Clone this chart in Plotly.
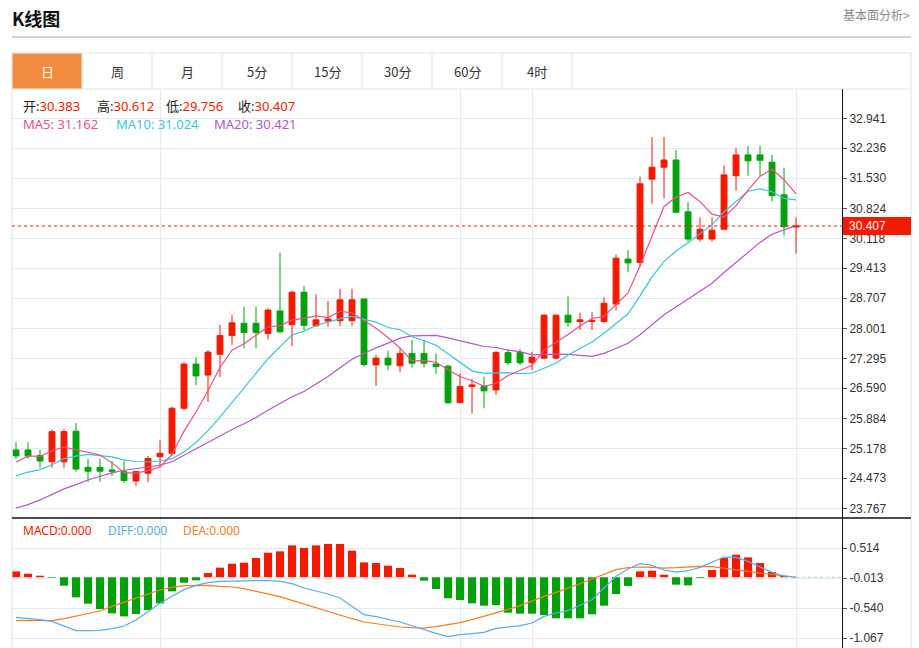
import plotly.graph_objects as go

# ---------------- data ----------------
idx = list(range(66))
opens = [25.14, 25.14, 25.01, 24.86, 24.86, 25.58, 24.73, 24.73, 24.67, 24.63,
         24.41, 24.59, 24.98, 25.06, 26.12, 27.16, 26.90, 27.39, 27.83, 28.12,
         28.12, 27.88, 28.41, 28.09, 28.85, 28.06, 28.17, 28.18, 28.18, 28.69,
         27.14, 27.30, 27.12, 27.41, 27.41, 27.16, 27.11, 26.25, 26.63, 26.64,
         26.55, 27.43, 27.43, 27.19, 27.30, 27.30, 28.31, 28.16, 28.16, 28.16,
         28.57, 29.63, 29.55, 31.51, 31.79, 31.96, 30.74, 30.10, 30.10, 30.33,
         31.59, 32.08, 32.08, 31.91, 31.14, 30.383]
highs = [25.32, 25.32, 25.14, 25.62, 25.63, 25.77, 24.93, 24.93, 24.88, 24.88,
         24.63, 25.00, 25.37, 26.16, 27.20, 27.32, 27.49, 28.08, 28.31, 28.51,
         28.51, 28.47, 29.78, 28.88, 29.00, 28.80, 28.64, 28.93, 28.93, 28.71,
         27.37, 27.47, 27.55, 27.73, 27.72, 27.41, 27.14, 26.94, 26.81, 26.86,
         27.47, 27.51, 27.51, 27.45, 28.33, 28.33, 28.75, 28.37, 28.38, 28.73,
         29.73, 29.84, 31.57, 32.50, 32.50, 32.20, 30.97, 30.61, 30.61, 31.83,
         32.24, 32.29, 32.29, 32.08, 31.77, 30.612]
lows = [24.93, 24.93, 24.72, 24.72, 24.72, 24.63, 24.39, 24.39, 24.53, 24.36,
        24.29, 24.38, 24.73, 25.00, 26.07, 26.67, 26.27, 26.86, 27.61, 27.53,
        27.53, 27.74, 27.88, 27.58, 27.96, 28.04, 28.04, 28.05, 28.05, 27.10,
        26.65, 27.02, 26.97, 27.08, 27.08, 26.93, 26.22, 26.24, 26.00, 26.12,
        26.43, 27.14, 27.14, 27.02, 27.27, 27.27, 28.04, 27.96, 27.96, 28.12,
        28.42, 29.32, 29.45, 30.93, 31.06, 30.72, 30.04, 30.04, 30.04, 30.33,
        31.24, 31.59, 31.59, 30.99, 30.18, 29.756]
closes = [25.00, 25.00, 24.88, 25.57, 25.57, 24.69, 24.64, 24.64, 24.64, 24.42,
          24.63, 24.94, 25.06, 26.12, 27.16, 26.88, 27.44, 27.83, 28.13, 27.90,
          27.90, 28.43, 27.92, 28.85, 28.07, 28.20, 28.22, 28.67, 28.67, 27.15,
          27.30, 27.14, 27.41, 27.18, 27.18, 27.10, 26.25, 26.63, 26.67, 26.53,
          27.43, 27.19, 27.19, 27.32, 28.31, 28.31, 28.14, 28.20, 28.18, 28.59,
          29.65, 29.54, 31.40, 31.79, 31.96, 30.73, 30.10, 30.33, 30.31, 31.61,
          32.08, 31.94, 31.953, 31.12, 30.39, 30.407]
# closes of the 19 sessions before the first visible candle (estimated from the MA lines)
prior_closes = [23.40, 22.70, 23.15, 22.80, 22.70, 22.45, 22.85, 23.05, 23.20, 23.90,
                24.10, 24.30, 24.45, 24.10, 24.10, 24.25, 24.95, 24.90, 25.15]

macd_hist = [0.103, 0.062, 0.027, -0.010, -0.148, -0.353, -0.464, -0.558, -0.634, -0.687,
             -0.646, -0.576, -0.459, -0.248, -0.096, -0.055, 0.074, 0.168, 0.238, 0.256,
             0.338, 0.431, 0.455, 0.560, 0.514, 0.560, 0.584, 0.584, 0.467, 0.261,
             0.250, 0.203, 0.162, 0.045, -0.060, -0.206, -0.370, -0.399, -0.458, -0.499,
             -0.487, -0.622, -0.640, -0.640, -0.663, -0.721, -0.721, -0.721, -0.651, -0.499,
             -0.294, -0.153, 0.103, 0.115, 0.045, -0.130, -0.142, -0.013, 0.127, 0.338,
             0.396, 0.349, 0.250, 0.092, 0.027, 0.0]
diff_vals = [-0.705, -0.722, -0.745, -0.775, -0.851, -0.938, -0.938, -0.932, -0.903, -0.857,
             -0.751, -0.599, -0.458, -0.335, -0.218, -0.142, -0.095, -0.072, -0.066, -0.060,
             -0.060, -0.054, -0.072, -0.113, -0.189, -0.242, -0.294, -0.364, -0.511, -0.657,
             -0.692, -0.739, -0.786, -0.851, -0.921, -0.985, -1.044, -1.009, -0.991, -0.968,
             -0.898, -0.880, -0.851, -0.804, -0.687, -0.628, -0.587, -0.493, -0.394, -0.189,
             0.016, 0.145, 0.238, 0.209, 0.127, 0.092, 0.115, 0.174, 0.262, 0.355,
             0.349, 0.279, 0.180, 0.086, 0.022, 0.0]
dea_vals = [-0.757, -0.763, -0.763, -0.763, -0.728, -0.687, -0.646, -0.593, -0.511, -0.435,
            -0.364, -0.294, -0.224, -0.177, -0.148, -0.142, -0.142, -0.160, -0.171, -0.201,
            -0.247, -0.288, -0.341, -0.405, -0.470, -0.540, -0.599, -0.663, -0.728, -0.786,
            -0.815, -0.845, -0.874, -0.886, -0.892, -0.868, -0.833, -0.798, -0.745, -0.687,
            -0.628, -0.564, -0.499, -0.411, -0.335, -0.265, -0.194, -0.113, -0.031, 0.057,
            0.133, 0.168, 0.180, 0.174, 0.162, 0.168, 0.180, 0.192, 0.186, 0.162,
            0.133, 0.104, 0.075, 0.045, 0.022, 0.0]

price_ticks = [32.941, 32.236, 31.530, 30.824, 30.118, 29.413, 28.707, 28.001,
               27.295, 26.590, 25.884, 25.178, 24.473, 23.767]
macd_ticks = [0.514, -0.013, -0.540, -1.067]
month_marks = [12, 37, 43, 65]
tabs = ["日", "周", "月", "5分", "15分", "30分", "60分", "4时"]
last_price = 30.407

# ---------------- styling ----------------
W, H = 919, 648
RED = "#f21a00"
GREEN = "#04a10c"
C_MA5 = "#ec4f86"
C_MA10 = "#3cc4dc"
C_MA20 = "#b656c8"
C_DIFF = "#5aaaee"
C_DEA = "#f57d22"
GRID = "#e3ebf2"
FRAME = "#dde2e7"
LATIN = "Noto Sans, Noto Sans CJK SC, sans-serif"
CJK = "Noto Sans CJK SC, sans-serif"


def px(x):
    return x / W


def py(y):
    return 1 - y / H


def ma(n):
    allc = prior_closes + closes
    off = len(prior_closes)
    return [sum(allc[off + i - n + 1: off + i + 1]) / n for i in idx]


ma5, ma10, ma20 = ma(5), ma(10), ma(20)

# pixel geometry of the panels
X0, X1 = 12, 842
MAIN_TOP, MAIN_BOT = 89, 518
PPU = 30 / ((price_ticks[0] - price_ticks[-1]) / 13)  # pixels per price unit
y_main_top = price_ticks[-1] + (508.3 - MAIN_TOP) / PPU
y_main_bot = price_ticks[-1] - (MAIN_BOT - 508.3) / PPU
MK = (macd_ticks[0] - macd_ticks[-1]) / 90.0
y_macd_top = macd_ticks[0] + (548 - MAIN_BOT) * MK
y_macd_bot = macd_ticks[-1] - (H - 638) * MK
x_range = [-0.333, 68.83]

fig = go.Figure()
fig.add_trace(go.Candlestick(
    x=idx, open=opens, high=highs, low=lows, close=closes,
    increasing=dict(line=dict(color=RED, width=1), fillcolor=RED),
    decreasing=dict(line=dict(color=GREEN, width=1), fillcolor=GREEN),
    whiskerwidth=0, hoverinfo="skip", xaxis="x", yaxis="y"))
for vals, col in [(ma20, C_MA20), (ma10, C_MA10), (ma5, C_MA5)]:
    fig.add_trace(go.Scatter(x=idx, y=vals, mode="lines", line=dict(color=col, width=1.2),
                             hoverinfo="skip", xaxis="x", yaxis="y"))

fig.add_trace(go.Bar(x=idx, y=macd_hist, width=0.68,
                     marker=dict(color=[RED if v >= 0 else GREEN for v in macd_hist], line=dict(width=0)),
                     hoverinfo="skip", xaxis="x2", yaxis="y2"))
fig.add_trace(go.Scatter(x=idx, y=dea_vals, mode="lines", line=dict(color=C_DEA, width=1.2),
                         hoverinfo="skip", xaxis="x2", yaxis="y2"))
fig.add_trace(go.Scatter(x=idx, y=diff_vals, mode="lines", line=dict(color=C_DIFF, width=1.2),
                         hoverinfo="skip", xaxis="x2", yaxis="y2"))

axis_x = dict(domain=[px(X0), px(X1)], range=x_range, tickvals=month_marks, showticklabels=False,
              showgrid=True, gridcolor=GRID, gridwidth=1, zeroline=False, showline=False,
              ticks="", fixedrange=True)
tickfont = dict(family="Liberation Sans, Arial, sans-serif", size=12, color="#333333")

fig.update_layout(
    width=W, height=H, margin=dict(l=0, r=0, t=0, b=0),
    paper_bgcolor="white", plot_bgcolor="white", showlegend=False,
    xaxis=dict(axis_x, anchor="y", rangeslider=dict(visible=False)),
    xaxis2=dict(axis_x, anchor="y2"),
    yaxis=dict(domain=[py(MAIN_BOT), py(MAIN_TOP)], range=[y_main_bot, y_main_top], side="right",
               anchor="x", tickvals=price_ticks, ticktext=["%.3f" % v for v in price_ticks],
               showgrid=True, gridcolor=GRID, zeroline=False, showline=True, linecolor="#111111",
               linewidth=1, ticks="outside", ticklen=4, tickcolor="#555555", tickfont=tickfont,
               fixedrange=True),
    yaxis2=dict(domain=[0, py(MAIN_BOT)], range=[y_macd_bot, y_macd_top], side="right",
                anchor="x2", tickvals=macd_ticks, ticktext=["%.3f" % v for v in macd_ticks],
                showgrid=True, gridcolor=GRID, zeroline=False, showline=True, linecolor="#111111",
                linewidth=1, ticks="outside", ticklen=4, tickcolor="#555555", tickfont=tickfont,
                fixedrange=True),
    bargap=0.3,
)

shapes = []


def pline(x0, y0, x1, y1, color, width=1, dash="solid", layer="above"):
    shapes.append(dict(type="line", xref="paper", yref="paper", x0=px(x0), y0=py(y0),
                       x1=px(x1), y1=py(y1), line=dict(color=color, width=width, dash=dash),
                       layer=layer))


# header rule
pline(12, 37, 911, 37, "#d3d3d3", 2)
# tab bar
shapes.append(dict(type="rect", xref="paper", yref="paper", x0=px(12), x1=px(911),
                   y0=py(89), y1=py(53), line=dict(color="#dfe3e8", width=1), fillcolor="white",
                   layer="below"))
shapes.append(dict(type="rect", xref="paper", yref="paper", x0=px(12.5), x1=px(82),
                   y0=py(88.5), y1=py(53.5), line=dict(width=0), fillcolor="#f28c3f", layer="above"))
for k in range(1, len(tabs) + 1):
    xs = 12 + 70 * k
    pline(xs, 53, xs, 89, "#dfe3e8", 1)
# frame
pline(12, 89, 12, 648, FRAME, 1)
pline(911, 89, 911, 648, FRAME, 1)
# panel separator
pline(12, 518, 911, 518, "#111111", 1.5)
# last price dotted line and tag
shapes.append(dict(type="line", xref="paper", yref="y", x0=px(X0), x1=px(X1), y0=last_price,
                   y1=last_price, line=dict(color=RED, width=1, dash="dot"), layer="above"))
tag_y = MAIN_TOP + (y_main_top - last_price) * PPU
shapes.append(dict(type="rect", xref="paper", yref="paper", x0=px(843), x1=px(911),
                   y0=py(tag_y + 9), y1=py(tag_y - 9), line=dict(width=0), fillcolor=RED,
                   layer="above"))
# macd zero dotted line to the right of the data
shapes.append(dict(type="line", xref="x2", yref="y2", x0=idx[-1], x1=x_range[1], y0=0, y1=0,
                   line=dict(color="#a9d3f2", width=1, dash="dot"), layer="above"))
fig.update_layout(shapes=shapes)

ann = []


def text(x, y, s, size=13, color="#333333", family=LATIN, xanchor="left"):
    ann.append(dict(xref="paper", yref="paper", x=px(x), y=py(y), text=s, showarrow=False,
                    xanchor=xanchor, yanchor="middle", font=dict(family=family, size=size, color=color),
                    borderpad=0))


text(11, 18, "<b>K线图</b>", 18, "#111111", CJK)
text(911, 15, "基本面分析&gt;", 12, "#8a8a8a", CJK, "right")
for k, t in enumerate(tabs):
    text(47 + 70 * k, 71, t, 13, "white" if k == 0 else "#333333", CJK, "center")

ohlc = [("开", opens[-1], 22), ("高", highs[-1], 96), ("低", lows[-1], 165), ("收", closes[-1], 237)]
for lab, v, x in ohlc:
    text(x, 106, "%s:<span style='color:%s'>%.3f</span>" % (lab, RED, v), 13, "#222222")
for lab, vals, col, x in [("MA5", ma5, C_MA5, 22), ("MA10", ma10, C_MA10, 115), ("MA20", ma20, C_MA20, 213)]:
    text(x, 124, "%s: %.3f" % (lab, vals[-1]), 13, col)
for lab, vals, col, x in [("MACD", macd_hist, RED, 22), ("DIFF", diff_vals, C_DIFF, 107),
                          ("DEA", dea_vals, C_DEA, 182)]:
    text(x, 530, "%s:%.3f" % (lab, vals[-1]), 12, col)
text(848, tag_y, "%.3f" % last_price, 12, "white", "Liberation Sans, Arial, sans-serif")
fig.update_layout(annotations=ann)

fig.write_html("out.html", config={"displayModeBar": False, "staticPlot": True},
               post_script="document.body.style.margin='0';")
